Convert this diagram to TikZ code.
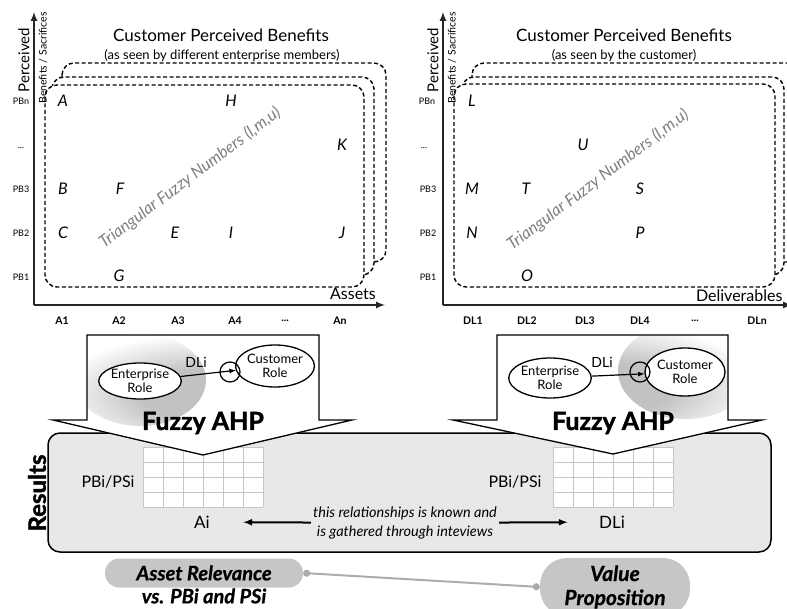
\documentclass[tikz,border=0pt]{standalone}
\usepackage{fontspec}
\setmainfont{Lato}
\newfontfamily\heavyfont{Lato}[BoldFeatures={FakeBold=1.6}, BoldItalicFeatures={FakeBold=0.8}]
\usetikzlibrary{calc}
\usetikzlibrary{positioning}
\usetikzlibrary{shapes.geometric}
\usetikzlibrary{arrows.meta}
\pgfdeclareradialshading{roleglow}{\pgfpoint{0bp}{0bp}}{color(0bp)=(black!24); color(10bp)=(black!24); color(25bp)=(white); color(50bp)=(white)}
\tikzstyle{axisline} = [line width=2pt, black!85, -latex]
\tikzstyle{sheet} = [draw, line width=1.4pt, dash pattern=on 4pt off 2.5pt, rounded corners=12pt, fill=white]
\tikzstyle{ptnode} = [font=\itshape\fontsize{16}{16}\selectfont, inner sep=0]
\tikzstyle{rownode} = [font=\fontsize{9}{9}\selectfont, inner sep=0]
\tikzstyle{colnode} = [font=\bfseries\fontsize{10.5}{10.5}\selectfont, inner sep=0]
\tikzstyle{tfnnode} = [font=\itshape\fontsize{16.5}{16.5}\selectfont, text=gray, rotate=37]
\tikzstyle{titlenode} = [font=\fontsize{17}{17}\selectfont]
\tikzstyle{subnode} = [font=\fontsize{13}{13}\selectfont]
\tikzstyle{bigarrow} = [draw, line width=1.3pt, fill=white]
\tikzstyle{rolenode} = [draw, ellipse, line width=1.3pt, fill=white, align=center, inner sep=0, font=\fontsize{13}{14}\selectfont]
\tikzstyle{ringnode} = [draw, circle, line width=1.2pt, minimum size=20pt, inner sep=0]
\tikzstyle{ahpnode} = [font=\heavyfont\bfseries\fontsize{25}{25}\selectfont]
\tikzstyle{gridline} = [gray!45, line width=0.6pt]
\tikzstyle{pillnode} = [fill=gray!45, font=\heavyfont\bfseries\itshape\fontsize{20}{23}\selectfont, align=center, inner sep=0]

\begin{document}
\begin{tikzpicture}[x=1pt, y=-1pt]
    \useasboundingbox (0,0) rectangle (787,609);

    \draw[sheet] (62,63) rectangle (386,262);
    \draw[sheet] (52,77) rectangle (374,275);
    \draw[sheet] (45,85) rectangle (364,287);
    \draw[sheet] (472,63) rectangle (800,262);
    \draw[sheet] (462,77) rectangle (784,275);
    \draw[sheet] (454,84) rectangle (775,287);

    \coordinate (orig1) at (34,305);
    \coordinate (ytop1) at (34,12);
    \coordinate (xend1) at (385,305);
    \coordinate (orig2) at (443,305);
    \coordinate (ytop2) at (443,12);
    \coordinate (xend2) at (792,305);
    \draw[axisline] (orig1) -- (ytop1);
    \draw[axisline] (orig1) -- (xend1);
    \draw[axisline] (orig2) -- (ytop2);
    \draw[axisline] (orig2) -- (xend2);

    \node[rotate=90, font=\fontsize{15}{15}\selectfont] (perc1) at (24,60) {Perceived};
    \node[rotate=90, font=\fontsize{10.5}{11}\selectfont] (bensac1) at (43,58) {Benefits / Sacrifices};
    \node[rotate=90, font=\fontsize{15}{15}\selectfont] (perc2) at (433,60) {Perceived};
    \node[rotate=90, font=\fontsize{10.5}{11}\selectfont] (bensac2) at (452,58) {Benefits / Sacrifices};

    \node[titlenode] (title1) at (221,35) {Customer Perceived Benefits};
    \node[subnode] (sub1) at (222,56) {(as seen by different enterprise members)};
    \node[titlenode] (title2) at (624,35) {Customer Perceived Benefits};
    \node[subnode] (sub2) at (624,56) {(as seen by the customer)};

    \node[rownode] (pbn1) at (21,101) {PBn};
    \node[rownode] (pbdots1) at (21,148) {...};
    \node[rownode] (pb31) at (21,189) {PB3};
    \node[rownode] (pb21) at (21,233) {PB2};
    \node[rownode] (pb11) at (21,277) {PB1};
    \node[rownode] (pbn2) at (427,101) {PBn};
    \node[rownode] (pbdots2) at (424,148) {...};
    \node[rownode] (pb32) at (428,189) {PB3};
    \node[rownode] (pb22) at (428,233) {PB2};
    \node[rownode] (pb12) at (428,277) {PB1};

    \node[colnode] (a1) at (62,321) {A1};
    \node[colnode] (a2) at (119,321) {A2};
    \node[colnode] (a3) at (178,321) {A3};
    \node[colnode] (a4) at (235,321) {A4};
    \node[colnode] (adots) at (285,321) {...};
    \node[colnode] (an) at (340,321) {An};
    \node[colnode] (dl1c) at (473,321) {DL1};
    \node[colnode] (dl2c) at (527,321) {DL2};
    \node[colnode] (dl3c) at (585,321) {DL3};
    \node[colnode] (dl4c) at (640,321) {DL4};
    \node[colnode] (dldots) at (695,321) {...};
    \node[colnode] (dlnc) at (757,321) {DLn};

    \node[font=\fontsize{16}{16}\selectfont] (assets) at (353,294) {Assets};
    \node[font=\fontsize{16}{16}\selectfont, anchor=east] (deliv) at (786,296) {Deliverables};

    \node[ptnode] (A) at (63,101) {A};
    \node[ptnode] (H) at (231,101) {H};
    \node[ptnode] (K) at (342,145) {K};
    \node[ptnode] (B) at (63,189) {B};
    \node[ptnode] (F) at (120,189) {F};
    \node[ptnode] (C) at (63,233) {C};
    \node[ptnode] (E) at (175,233) {E};
    \node[ptnode] (I) at (231,233) {I};
    \node[ptnode] (J) at (342,233) {J};
    \node[ptnode] (G) at (119,276) {G};
    \node[ptnode] (L) at (472,101) {L};
    \node[ptnode] (U) at (583,145) {U};
    \node[ptnode] (M) at (472,189) {M};
    \node[ptnode] (T) at (526,189) {T};
    \node[ptnode] (S) at (640,189) {S};
    \node[ptnode] (N) at (472,233) {N};
    \node[ptnode] (P) at (640,233) {P};
    \node[ptnode] (O) at (527,276) {O};

    \node[tfnnode] (tfn1) at (190,178) {Triangular Fuzzy Numbers (l,m,u)};
    \node[tfnnode] (tfn2) at (598,180) {Triangular Fuzzy Numbers (l,m,u)};

    \draw[line width=1.5pt, rounded corners=12pt, fill=gray!18] (48,433) rectangle (771,552);
    \node[rotate=90, font=\heavyfont\bfseries\fontsize{24}{24}\selectfont] (results) at (37,493) {Results};

    \fill[white] (143,447) rectangle (263,507);
    \foreach \gx in {0,20,...,120} \draw[gridline] (143+\gx,447) -- (143+\gx,507);
    \foreach \gy in {0,15,...,60} \draw[gridline] (143,447+\gy) -- (263,447+\gy);
    \fill[white] (553,447) rectangle (673,507);
    \foreach \gx in {0,20,...,120} \draw[gridline] (553+\gx,447) -- (553+\gx,507);
    \foreach \gy in {0,15,...,60} \draw[gridline] (553,447+\gy) -- (673,447+\gy);

    \draw[bigarrow, path picture={\shade[shading=roleglow] (140,380) ellipse (66 and 46);}]
        (87,335) -- (319,335) -- (319,420) -- (352,420) -- (203,455) -- (53,420) -- (87,420) -- cycle;
    \draw[bigarrow, path picture={\shade[shading=roleglow] (686,371) ellipse (68 and 48);}]
        (497,335) -- (728,335) -- (728,420) -- (762,420) -- (613,454) -- (453,420) -- (497,420) -- cycle;

    \node[rolenode, minimum width=78pt, minimum height=36pt] (ent1) at (140,381) {Enterprise\\Role};
    \node[rolenode, minimum width=77pt, minimum height=42pt] (cust1) at (275,366) {Customer\\Role};
    \node[ringnode] (ring1) at (230,372) {};
    \draw[-latex, line width=1.2pt] (ent1) -- (cust1);
    \node[font=\fontsize{14}{14}\selectfont] (dlab1) at (196,362) {DLi};

    \node[rolenode, minimum width=78pt, minimum height=40pt] (ent2) at (550,378) {Enterprise\\Role};
    \node[rolenode, minimum width=80pt, minimum height=48pt] (cust2) at (685,372) {Customer\\Role};
    \node[ringnode] (ring2) at (640,372) {};
    \draw[-latex, line width=1.2pt] (ent2) -- (cust2);
    \node[font=\fontsize{14}{14}\selectfont] (dlab2) at (602,362) {DLi};

    \node[ahpnode] (ahp1) at (203,423) {Fuzzy AHP};
    \node[ahpnode] (ahp2) at (613,423) {Fuzzy AHP};

    \node[font=\fontsize{16}{16}\selectfont] (pbi1) at (108,482) {PBi/PSi};
    \node[font=\fontsize{16}{16}\selectfont] (pbi2) at (515,482) {PBi/PSi};
    \node[font=\fontsize{17}{17}\selectfont] (ai) at (202,522) {Ai};
    \node[font=\fontsize{17}{17}\selectfont] (dli) at (612,522) {DLi};
    \node[font=\itshape\fontsize{14.5}{19}\selectfont, align=center, inner sep=2pt] (rel) at (405,523)
        {this relationships is known and\\is gathered through inteviews};
    \draw[-latex, line width=2pt, shorten >=30pt] (rel) -- (ai);
    \draw[-latex, line width=2pt, shorten >=28pt] (rel) -- (dli);

    \node[pillnode, minimum width=198pt, minimum height=29pt, rounded corners=14pt] (asset) at (204,573) {Asset Relevance};
    \node[font=\heavyfont\bfseries\itshape\fontsize{20}{20}\selectfont] (vspb) at (204,596) {vs. PBi and PSi};
    \node[pillnode, minimum width=150pt, minimum height=58pt, rounded corners=27pt, font=\heavyfont\bfseries\itshape\fontsize{21}{24}\selectfont] (value) at (615,587) {Value\\Proposition};
    \draw[gray!65, line width=2pt, {Circle[length=7pt]}-{Circle[length=7pt]}] (asset.east) -- (value.west);
\end{tikzpicture}
\end{document}
